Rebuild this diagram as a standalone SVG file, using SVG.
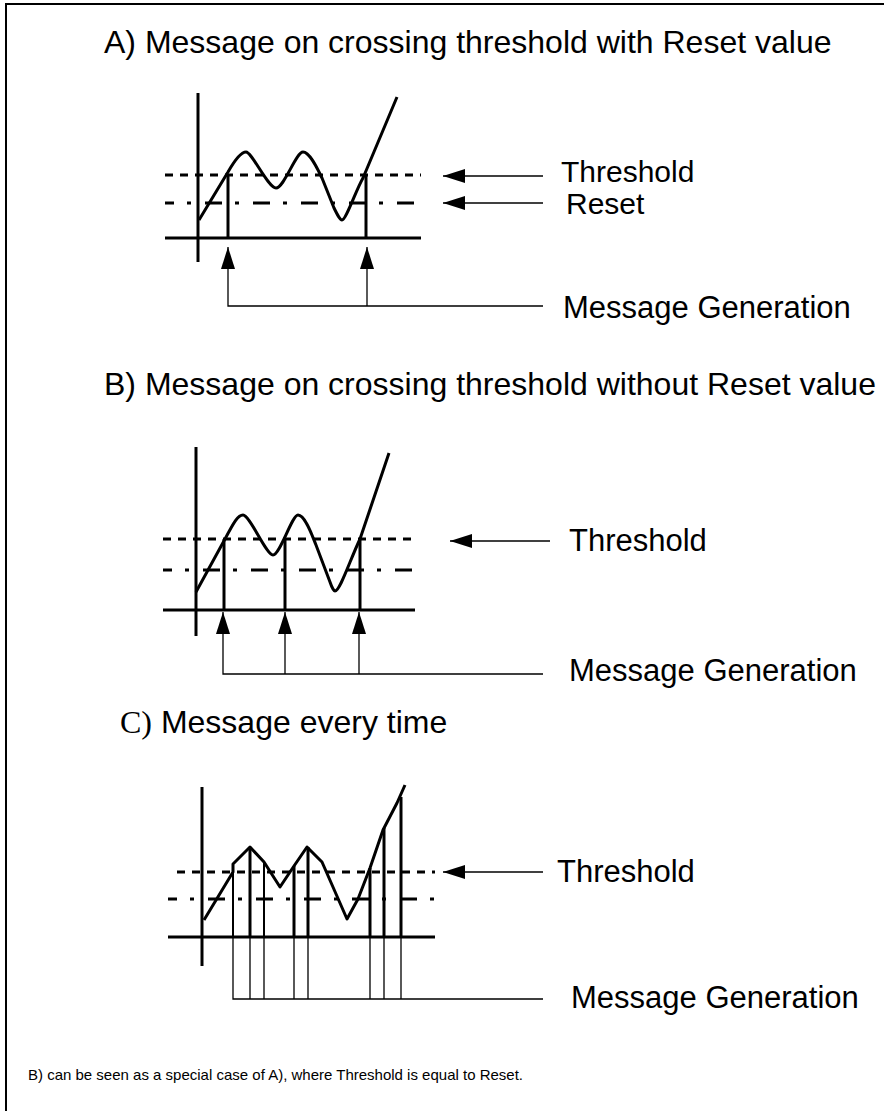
<svg xmlns="http://www.w3.org/2000/svg" width="884" height="1111" viewBox="0 0 884 1111">
<style>
.t{font-family:"Liberation Sans",Arial,sans-serif;font-size:32px;fill:#000}
.l{font-family:"Liberation Sans",Arial,sans-serif;font-size:31px;fill:#000}
.f{font-family:"Liberation Sans",Arial,sans-serif;font-size:15px;fill:#000}
.ser{font-family:"Liberation Serif","Times New Roman",serif}
.ax{stroke:#000;stroke-width:3;fill:none}
.cv{stroke:#000;stroke-width:3;fill:none;stroke-linejoin:round}
.th{stroke:#000;stroke-width:3;stroke-dasharray:8 7;fill:none}
.rs{stroke:#000;stroke-width:3;stroke-dasharray:4 14 17 13;stroke-dashoffset:26;fill:none}
.ml{stroke:#000;stroke-width:3;fill:none}
.mt{stroke:#000;stroke-width:2;fill:none}
.cn{stroke:#000;stroke-width:1.3;fill:none}
</style>
<defs>
<marker id="ah" markerUnits="userSpaceOnUse" viewBox="0 0 22 14" markerWidth="22" markerHeight="14" refX="22" refY="7" orient="auto">
<path d="M0,0 L22,7 L0,14 Z" fill="#000"/>
</marker>
</defs>
<rect width="884" height="1111" fill="#fff"/>
<path d="M6,1111 V4 H884" stroke="#000" stroke-width="2" fill="none"/>

<g id="titles">
<text class="t" x="104" y="53">A) Message on crossing threshold with Reset value</text>
<text class="t" x="104" y="395">B) Message on crossing threshold without Reset value</text>
<text class="t" x="120" y="733"><tspan class="ser">C)</tspan> Message every time</text>
<text class="f" x="28" y="1080">B) can be seen as a special case of A), where Threshold is equal to Reset.</text>
</g>

<g id="chartA">
<line class="th" x1="165" y1="175" x2="421" y2="175"/>
<line class="rs" x1="165" y1="203" x2="421" y2="203"/>
<line class="ax" x1="198" y1="93" x2="198" y2="262"/>
<line class="ax" x1="165" y1="238" x2="421" y2="238"/>
<path class="cv" d="M199,220 L228,172 C236,158 242,152 246,152 C252,152 268,188 276,188 C284,188 296,152 303,152 C310,152 318,170 322,178 L334,208 C338,216 340,220 342,220 C346,220 356,190 363,178 L397,97"/>
<line class="ml" x1="228" y1="175" x2="228" y2="238"/>
<line class="ml" x1="366" y1="175" x2="366" y2="238"/>
</g>

<g id="chartB">
<line class="th" x1="163" y1="539" x2="415" y2="539"/>
<line class="rs" x1="163" y1="570" x2="415" y2="570"/>
<line class="ax" x1="196" y1="447" x2="196" y2="636"/>
<line class="ax" x1="163" y1="610" x2="415" y2="610"/>
<path class="cv" d="M196,592 L225,539 C234,522 238,515 243,515 C250,515 266,555 273,555 C280,555 292,515 298,515 C305,515 312,535 316,545 L330,582 C332,588 334,591 335,591 C340,591 350,560 360,539 L389,453"/>
<line class="ml" x1="224" y1="539" x2="224" y2="610"/>
<line class="ml" x1="285" y1="539" x2="285" y2="610"/>
<line class="ml" x1="360" y1="539" x2="360" y2="610"/>
</g>

<g id="chartC">
<line class="th" x1="177" y1="872" x2="435" y2="872"/>
<line class="rs" x1="168" y1="899" x2="435" y2="899"/>
<line class="ax" x1="202" y1="787" x2="202" y2="966"/>
<line class="ax" x1="168" y1="937" x2="435" y2="937"/>
<path class="cv" d="M204,920 L233,872 L233,864 L250,847 L264,862 L280,887 L294,866 L307,847 L322,862 L347,919 L358,899 L370,868 L383,830 L397,803 L405,785"/>
<line class="mt" x1="233" y1="864" x2="233" y2="937"/>
<line class="ml" x1="250" y1="847" x2="250" y2="937"/>
<line class="mt" x1="264" y1="862" x2="264" y2="937"/>
<line class="ml" x1="294" y1="866" x2="294" y2="937"/>
<line class="ml" x1="308" y1="847" x2="308" y2="937"/>
<line class="ml" x1="370" y1="868" x2="370" y2="937"/>
<line class="ml" x1="384" y1="828" x2="384" y2="937"/>
<line class="ml" x1="401" y1="797" x2="401" y2="937"/>
</g>

<g id="labels">
<text class="l" x="561" y="182" style="font-size:30px">Threshold</text>
<text class="l" x="566" y="214" style="font-size:30px">Reset</text>
<text class="l" x="563" y="318">Message Generation</text>
<text class="l" x="569" y="551">Threshold</text>
<text class="l" x="569" y="681">Message Generation</text>
<text class="l" x="557" y="882">Threshold</text>
<text class="l" x="571" y="1008">Message Generation</text>
</g>

<g id="connectors">
<line class="cn" x1="543" y1="176" x2="443" y2="176" marker-end="url(#ah)"/>
<line class="cn" x1="543" y1="203" x2="443" y2="203" marker-end="url(#ah)"/>
<path class="cn" d="M543,306 H228 V247" marker-end="url(#ah)"/>
<path class="cn" d="M367,306 V247" marker-end="url(#ah)"/>

<line class="cn" x1="550" y1="541" x2="450" y2="541" marker-end="url(#ah)"/>
<path class="cn" d="M543,674 H223 V612" marker-end="url(#ah)"/>
<path class="cn" d="M285,674 V612" marker-end="url(#ah)"/>
<path class="cn" d="M359,674 V612" marker-end="url(#ah)"/>

<line class="cn" x1="543" y1="872" x2="443" y2="872" marker-end="url(#ah)"/>
<path class="cn" d="M543,999 H233 V937"/>
<path class="cn" d="M250,999 V937 M264,999 V937 M294,999 V937 M308,999 V937 M370,999 V937 M384,999 V937 M401,999 V937"/>
</g>
</svg>
